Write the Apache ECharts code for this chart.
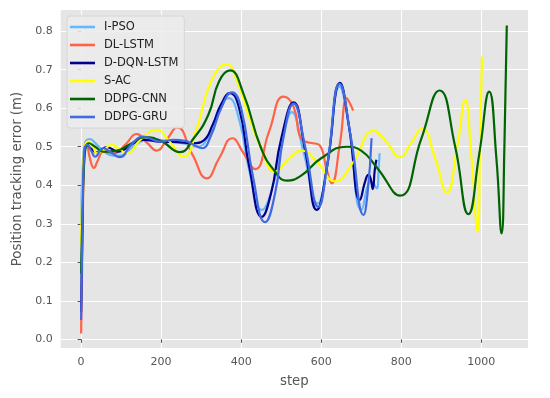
<!DOCTYPE html>
<html>
<head>
<meta charset="utf-8">
<script src="https://cdn.jsdelivr.net/npm/echarts@6/dist/echarts.min.js"></script>
<style>html,body{margin:0;padding:0;background:#fff;}#c{width:550px;height:398px;}</style>
</head>
<body>
<div id="c"></div>
<script>
const seriesNames = ['I-PSO', 'DL-LSTM', 'D-DQN-LSTM', 'S-AC', 'DDPG-CNN', 'DDPG-GRU'];
const xTicks = [0, 200, 400, 600, 800, 1000];
const yTicks = [0.0, 0.1, 0.2, 0.3, 0.4, 0.5, 0.6, 0.7, 0.8];

const ipso = [[0,0.30],[4,0.45],[10,0.51],[22,0.52],[35,0.51],[55,0.49],[80,0.477],[97,0.477],[130,0.50],[170,0.52],[210,0.515],[250,0.51],[290,0.50],[320,0.53],[345,0.60],[368,0.626],[395,0.57],[420,0.44],[452,0.336],[480,0.40],[500,0.50],[527,0.59],[555,0.49],[591,0.353],[615,0.45],[646,0.656],[670,0.55],[701,0.336],[725,0.41],[739,0.392],[744,0.45],[746,0.483]];
const dlLstm = [[0,0.015],[4,0.30],[8,0.48],[13,0.513],[22,0.47],[32,0.445],[42,0.465],[55,0.487],[68,0.485],[82,0.483],[110,0.505],[139,0.533],[165,0.51],[189,0.49],[215,0.52],[240,0.55],[278,0.48],[314,0.418],[345,0.47],[378,0.522],[405,0.485],[435,0.442],[470,0.54],[506,0.63],[531,0.604],[547,0.526],[562,0.513],[580,0.509],[597,0.503],[614,0.44],[626,0.405],[647,0.509],[664,0.626],[672,0.612],[680,0.594]];
const dqnLstm = [[0,0.07],[4,0.35],[8,0.49],[14,0.505],[25,0.495],[40,0.485],[64,0.499],[93,0.487],[125,0.505],[156,0.518],[197,0.513],[240,0.512],[281,0.509],[305,0.515],[330,0.56],[350,0.61],[372,0.639],[395,0.60],[420,0.45],[452,0.318],[475,0.38],[500,0.52],[531,0.615],[560,0.49],[589,0.336],[615,0.45],[647,0.666],[670,0.55],[697,0.362],[710,0.41],[718,0.427],[723,0.42],[729,0.39],[734,0.44],[738,0.466]];
const sac = [[0,0.25],[4,0.42],[9,0.50],[18,0.513],[30,0.50],[39,0.483],[55,0.49],[77,0.505],[95,0.495],[114,0.483],[150,0.52],[189,0.544],[220,0.515],[256,0.474],[290,0.55],[325,0.67],[364,0.714],[390,0.67],[418,0.583],[450,0.496],[485,0.435],[520,0.47],[552,0.49],[590,0.46],[635,0.41],[680,0.46],[731,0.541],[765,0.51],[796,0.473],[825,0.51],[852,0.548],[885,0.47],[914,0.381],[940,0.50],[960,0.622],[975,0.48],[991,0.28],[997,0.50],[1002,0.734]];
const ddpgCnn = [[0,0.17],[4,0.35],[9,0.48],[20,0.509],[35,0.50],[56,0.487],[90,0.49],[120,0.505],[160,0.525],[200,0.515],[247,0.486],[280,0.52],[318,0.583],[345,0.67],[372,0.698],[405,0.64],[450,0.496],[485,0.435],[514,0.412],[550,0.425],[600,0.47],[664,0.50],[700,0.49],[740,0.445],[797,0.373],[850,0.52],[896,0.646],[935,0.50],[968,0.325],[995,0.48],[1020,0.643],[1038,0.47],[1051,0.275],[1058,0.50],[1064,0.815]];
const ddpgGru = [[0,0.05],[4,0.35],[8,0.49],[15,0.505],[25,0.49],[35,0.474],[55,0.496],[75,0.485],[97,0.473],[125,0.505],[156,0.526],[197,0.513],[231,0.518],[260,0.515],[281,0.505],[302,0.496],[325,0.53],[350,0.60],[377,0.641],[400,0.60],[430,0.42],[460,0.304],[485,0.38],[505,0.52],[531,0.612],[560,0.50],[593,0.344],[615,0.45],[646,0.663],[675,0.52],[706,0.323],[716,0.38],[726,0.522]];

const seriesData = [ipso, dlLstm, dqnLstm, sac, ddpgCnn, ddpgGru];
const colors = ['#63B8FF', '#FF6347', '#00008B', '#FFFF00', '#006400', '#4169E1'];

const chart = echarts.init(document.getElementById('c'), null, {renderer: 'canvas'});
const tickColor = '#555555';
chart.setOption({
  animation: false,
  backgroundColor: '#ffffff',
  color: colors,
  grid: {left: 60.7, right: 22, top: 10, bottom: 50, show: true, backgroundColor: '#E5E5E5', borderWidth: 0, containLabel: false},
  legend: {
    orient: 'vertical', left: 67, top: 16,
    backgroundColor: 'rgba(236,236,236,0.85)', borderColor: '#D6D6D6', borderWidth: 1, borderRadius: 3,
    padding: [2, 6, 2, 3],
    itemWidth: 25, itemHeight: 2.6, itemGap: 0, icon: 'rect',
    textStyle: {fontFamily: 'DejaVu Sans', fontSize: 11.5, color: '#222', lineHeight: 18, padding: [0, 0, 0, 4]},
    data: seriesNames
  },
  xAxis: {
    type: 'value', min: -51, max: 1117,
    name: 'step', nameLocation: 'middle', nameGap: 27,
    nameTextStyle: {fontFamily: 'DejaVu Sans', fontSize: 13.3, color: tickColor},
    axisLine: {show: false},
    axisTick: {show: true, length: 3.5, lineStyle: {color: tickColor}, customValues: xTicks},
    axisLabel: {customValues: xTicks, margin: 9, fontFamily: 'DejaVu Sans', fontSize: 11, color: tickColor,
      formatter: v => String(Math.round(v))},
    splitLine: {show: true, lineStyle: {color: '#ffffff', width: 1}}
  },
  yAxis: {
    type: 'value', min: -0.0226, max: 0.855,
    name: 'Position tracking error (m)', nameLocation: 'middle', nameGap: 35,
    nameTextStyle: {fontFamily: 'DejaVu Sans', fontSize: 13.3, color: tickColor},
    axisLine: {show: false},
    axisTick: {show: true, length: 3.5, lineStyle: {color: tickColor}, customValues: yTicks},
    axisLabel: {customValues: yTicks, margin: 8, fontFamily: 'DejaVu Sans', fontSize: 11, color: tickColor,
      formatter: v => Number(v).toFixed(1)},
    splitLine: {show: true, lineStyle: {color: '#ffffff', width: 1}}
  },
  series: seriesNames.map((n, i) => ({
    name: n, type: 'line', data: seriesData[i], showSymbol: false, symbol: 'none',
    smooth: 0.5,
    lineStyle: {width: 2.2, color: colors[i]}, itemStyle: {color: colors[i]}, z: 2 + i
  }))
});
</script>
</body>
</html>
